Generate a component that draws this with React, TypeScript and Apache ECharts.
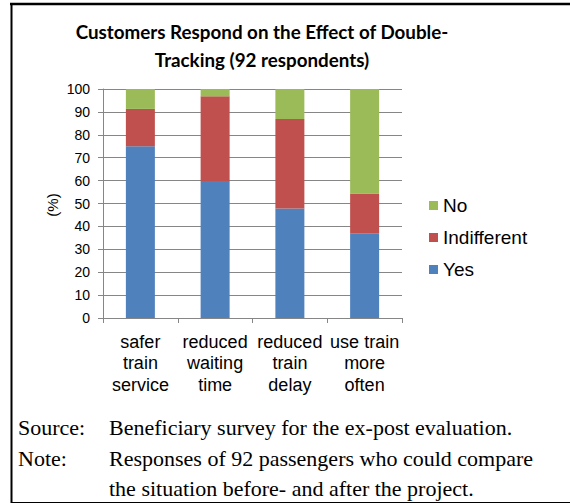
import React, { useEffect, useRef } from "react";
import * as echarts from "echarts";

const categories = [
  "safer\ntrain\nservice",
  "reduced\nwaiting\ntime",
  "reduced\ntrain\ndelay",
  "use train\nmore\noften",
];
const yesValues = [75.0, 59.8, 47.8, 37.0];
const indifferentValues = [16.3, 37.0, 39.1, 17.4];
const noValues = [8.7, 3.2, 13.1, 45.6];
const yTicks = { min: 0, max: 100, interval: 10 };
const titleLines = ["Customers Respond on the Effect of Double-", "Tracking (92 respondents)"];
const sourceLabel = "Source:";
const sourceText = "Beneficiary survey for the ex-post evaluation.";
const noteLabel = "Note:";
const noteLines = [
  "Responses of 92 passengers who could compare",
  "the situation before- and after the project.",
];

export default function App() {
  const ref = useRef<HTMLDivElement>(null);
  useEffect(() => {
    if (!ref.current) return;
    const chart = echarts.init(ref.current, null, { renderer: "svg" });
    const serif = "'Liberation Serif', 'Times New Roman', serif";
    const sans = "'Liberation Sans', Arial, sans-serif";
    const fs = 22;
    chart.setOption({
      animation: false,
      backgroundColor: "#ffffff",
      title: {
        text: titleLines.join("\n"),
        left: 257,
        top: 12,
        textAlign: "center",
        textStyle: {
          fontFamily: "Lato, 'Open Sans', sans-serif",
          fontWeight: "bold",
          fontSize: 18.8,
          lineHeight: 28,
          color: "#000",
        },
      },
      legend: {
        orient: "vertical",
        left: 429,
        top: 196,
        padding: 0,
        itemWidth: 9,
        itemHeight: 9,
        itemGap: 13,
        itemTextGap: 5,
        icon: "rect",
        data: ["No", "Indifferent", "Yes"],
        textStyle: { fontFamily: sans, fontSize: 19, lineHeight: 18, color: "#000" },
      },
      grid: { left: 103, right: 168, top: 89, bottom: 186, containLabel: false },
      xAxis: {
        type: "category",
        data: categories,
        axisLine: { lineStyle: { color: "#868686", width: 1 } },
        axisTick: { show: true, length: 5, lineStyle: { color: "#868686" } },
        axisLabel: {
          interval: 0,
          margin: 13,
          fontFamily: sans,
          fontSize: 18,
          lineHeight: 21.5,
          color: "#000",
        },
      },
      yAxis: {
        type: "value",
        min: yTicks.min,
        max: yTicks.max,
        interval: yTicks.interval,
        axisLine: { show: true, lineStyle: { color: "#868686", width: 1 } },
        axisTick: { show: true, length: 5, lineStyle: { color: "#868686" } },
        splitLine: { lineStyle: { color: "#868686", width: 1 } },
        axisLabel: { margin: 13, fontFamily: sans, fontSize: 14, color: "#000" },
      },
      series: [
        { name: "Yes", type: "bar", stack: "all", barWidth: 29, data: yesValues, itemStyle: { color: "#4F81BD" } },
        { name: "Indifferent", type: "bar", stack: "all", barWidth: 29, data: indifferentValues, itemStyle: { color: "#C0504D" } },
        { name: "No", type: "bar", stack: "all", barWidth: 29, data: noValues, itemStyle: { color: "#9BBB59" } },
      ],
      graphic: [
        { type: "line", shape: { x1: 10, y1: 4, x2: 570, y2: 4 }, style: { stroke: "#000", lineWidth: 2.5 } },
        { type: "line", shape: { x1: 11.5, y1: 3, x2: 11.5, y2: 503 }, style: { stroke: "#000", lineWidth: 2 } },
        { type: "line", shape: { x1: 11, y1: 502.5, x2: 570, y2: 502.5 }, style: { stroke: "#000", lineWidth: 1.2 } },
        {
          type: "text",
          x: 52,
          y: 205,
          rotation: Math.PI / 2,
          style: { text: "(%)", fontFamily: sans, fontSize: 15, fill: "#000", align: "center", verticalAlign: "middle" },
        },
        { type: "text", x: 18, y: 427, style: { text: sourceLabel, fontFamily: serif, fontSize: fs, fill: "#000", verticalAlign: "middle" } },
        { type: "text", x: 109, y: 427, style: { text: sourceText, fontFamily: serif, fontSize: fs, fill: "#000", verticalAlign: "middle" } },
        { type: "text", x: 18, y: 458, style: { text: noteLabel, fontFamily: serif, fontSize: fs, fill: "#000", verticalAlign: "middle" } },
        { type: "text", x: 109, y: 458, style: { text: noteLines[0], fontFamily: serif, fontSize: fs, fill: "#000", verticalAlign: "middle" } },
        { type: "text", x: 109, y: 488, style: { text: noteLines[1], fontFamily: serif, fontSize: fs, fill: "#000", verticalAlign: "middle" } },
      ],
    });
    return () => chart.dispose();
  }, []);
  return (
    <div style={{ position: "absolute", left: 0, top: 0, width: 570, height: 504 }}>
      <div ref={ref} style={{ width: 570, height: 504 }} />
    </div>
  );
}
